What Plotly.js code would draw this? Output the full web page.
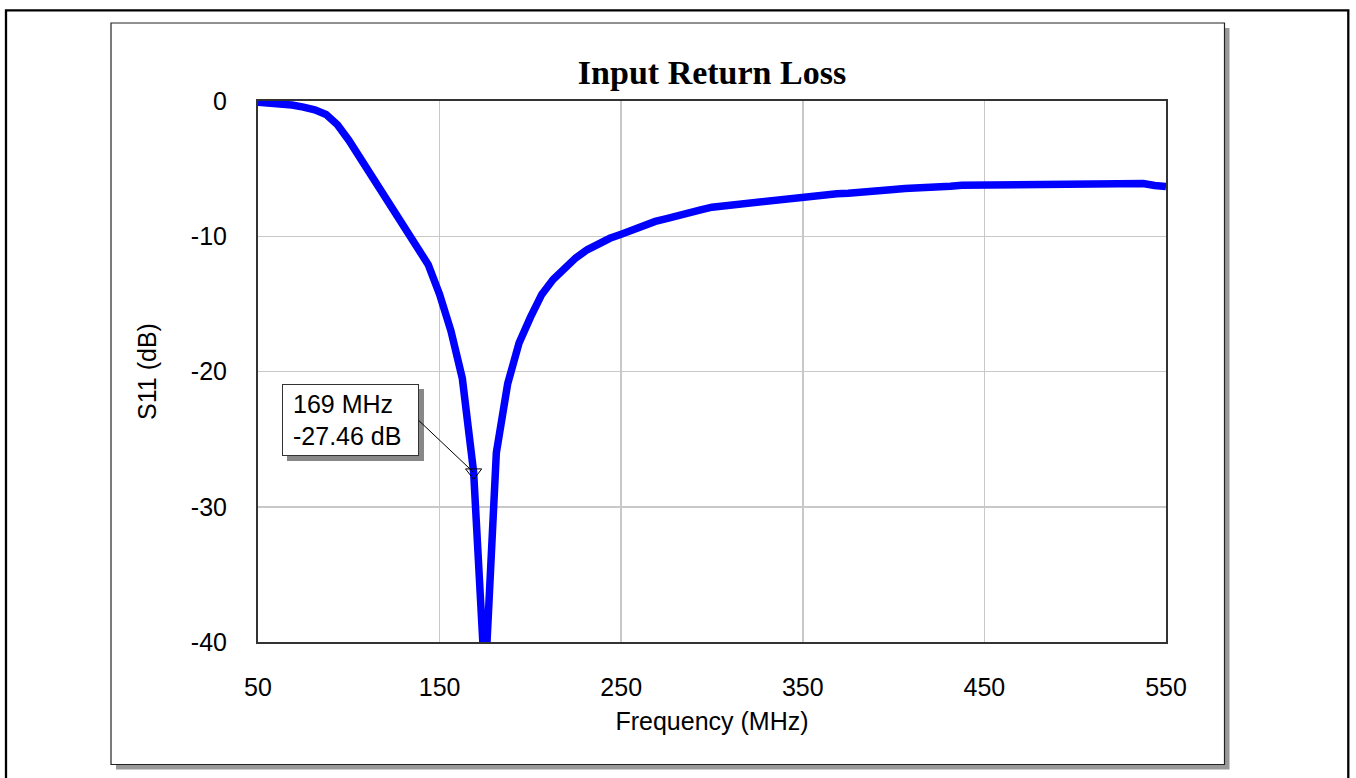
<!DOCTYPE html>
<html>
<head>
<meta charset="utf-8">
<script src="https://cdn.plot.ly/plotly-3.0.1.min.js"></script>
<style>
  html, body { margin: 0; padding: 0; background: #fff; }
  #chart { width: 1356px; height: 778px; }
</style>
</head>
<body>
<div id="chart"></div>
<script>
// ---- Data ----
const freqMHz = [
  50, 56.25, 62.5, 68.75, 75, 81.25, 87.5, 93.75, 100, 106.25,
  112.5, 118.75, 125, 131.25, 137.5, 143.75, 150, 156.25, 162.5, 168.75,
  175, 181.25, 187.5, 193.75, 200, 206.25, 212.5, 218.75, 225, 231.25,
  237.5, 243.75, 250, 256.25, 262.5, 268.75, 275, 281.25, 287.5, 293.75,
  300, 306.25, 312.5, 318.75, 325, 331.25, 337.5, 343.75, 350, 356.25,
  362.5, 368.75, 375, 381.25, 387.5, 393.75, 400, 406.25, 412.5, 418.75,
  425, 431.25, 437.5, 443.75, 450, 456.25, 462.5, 468.75, 475, 481.25,
  487.5, 493.75, 500, 506.25, 512.5, 518.75, 525, 531.25, 537.5, 543.75,
  550
];
const s11dB = [
  -0.10, -0.15, -0.22, -0.30, -0.45, -0.65, -1.00, -1.75, -2.90, -4.20,
  -5.50, -7.00, -8.20, -9.40, -10.70, -12.10, -14.30, -17.00, -20.50, -27.46,
  -43.00, -26.00, -20.90, -17.90, -16.00, -14.30, -13.20, -12.40, -11.60, -11.00,
  -10.50, -10.15, -9.85, -9.50, -9.10, -8.90, -8.70, -8.45, -8.20, -8.05,
  -7.85, -7.75, -7.65, -7.55, -7.45, -7.35, -7.27, -7.25, -7.15, -7.05,
  -6.95, -6.85, -6.82, -6.72, -6.70, -6.60, -6.55, -6.47, -6.45, -6.35,
  -6.33, -6.30, -6.23, -6.23, -6.23, -6.23, -6.12, -6.10, -6.10, -6.10,
  -6.10, -6.10, -6.10, -6.10, -6.10, -6.10, -6.10, -6.10, -6.10, -6.25,
  -6.32
];
const markerFreq = [168.75];
const markerDB = [-27.46];
const markerLabel = ['169 MHz', '-27.46 dB'];
const xTicks = [50, 150, 250, 350, 450, 550];
const yTicks = [0, -10, -20, -30, -40];
const chartTitle = 'Input Return Loss';
const xTitle = 'Frequency (MHz)';
const yTitle = 'S11 (dB)';

// ---- Layout geometry (pixels) ----
const W = 1356, H = 778;
const L = 258, R = 1166, T = 101, B = 642;
const px = x => (x - L) / (R - L);
const py = y => (B - y) / (B - T);
const sans = 'Liberation Sans, Arial, sans-serif';

const traces = [
  {
    x: freqMHz, y: s11dB, type: 'scatter', mode: 'lines',
    line: { color: '#0000ff', width: 7.5 },
    hoverinfo: 'x+y'
  },
  {
    x: markerFreq, y: markerDB, type: 'scatter', mode: 'markers',
    marker: { symbol: 'triangle-down-open', size: 14, color: '#000', line: { width: 1, color: '#000' } },
    cliponaxis: false
  }
];

const annBase = {
  x: markerFreq[0], y: markerDB[0], xref: 'x', yref: 'y',
  text: markerLabel.join('<br>'),
  font: { family: sans, size: 25, color: '#000' },
  align: 'left', width: 115, height: 50, borderpad: 10, borderwidth: 1,
  xanchor: 'right', yanchor: 'middle',
  showarrow: true, arrowhead: 0, arrowwidth: 1, standoff: 0,
  ax: -55, ay: -52
};

const layout = {
  width: W, height: H,
  margin: { l: L, r: W - R, t: T, b: H - B, pad: 0 },
  paper_bgcolor: '#ffffff', plot_bgcolor: '#ffffff',
  showlegend: false,
  title: {
    text: chartTitle,
    font: { family: 'Liberation Serif, Times New Roman, serif', size: 34, color: '#000', weight: 'bold' },
    x: 0.5, xref: 'paper', xanchor: 'center',
    y: 1 - 72 / H, yref: 'container', yanchor: 'middle'
  },
  xaxis: {
    range: [50, 550], autorange: false, fixedrange: true,
    tickvals: xTicks, ticktext: xTicks.map(String),
    ticks: '', ticklabelstandoff: 22,
    tickfont: { family: sans, size: 25, color: '#000' },
    showgrid: true, gridcolor: '#c8c8c8', gridwidth: 1.5,
    zeroline: false,
    showline: true, linecolor: '#333', linewidth: 2, mirror: true,
    title: { text: xTitle, font: { family: sans, size: 25, color: '#000' }, standoff: 12 }
  },
  yaxis: {
    range: [-40, 0], autorange: false, fixedrange: true,
    tickvals: yTicks, ticktext: yTicks.map(String),
    ticks: '', ticklabelstandoff: 24,
    tickfont: { family: sans, size: 25, color: '#000' },
    showgrid: true, gridcolor: '#c8c8c8', gridwidth: 1.5,
    zeroline: false,
    showline: true, linecolor: '#333', linewidth: 2, mirror: true,
    title: { text: yTitle, font: { family: sans, size: 25, color: '#000' }, standoff: 27 }
  },
  shapes: [
    { type: 'rect', xref: 'paper', yref: 'paper', layer: 'below',
      x0: px(6), x1: px(1348.3), y0: py(10.3), y1: py(800),
      line: { color: '#000', width: 2.3 }, fillcolor: 'rgba(0,0,0,0)' },
    { type: 'rect', xref: 'paper', yref: 'paper', layer: 'below',
      x0: px(116), x1: px(1229.5), y0: py(28), y1: py(769.5),
      line: { width: 0 }, fillcolor: '#999999' },
    { type: 'rect', xref: 'paper', yref: 'paper', layer: 'below',
      x0: px(111), x1: px(1224.5), y0: py(23), y1: py(764.5),
      line: { color: '#222', width: 1.2 }, fillcolor: '#ffffff' }
  ],
  annotations: [
    Object.assign({}, annBase, {
      text: '&nbsp;',
      bgcolor: '#888', bordercolor: '#888',
      arrowcolor: 'rgba(0,0,0,0)', xshift: 5, yshift: -5
    }),
    Object.assign({}, annBase, {
      bgcolor: '#ffffff', bordercolor: '#333', arrowcolor: '#000'
    })
  ]
};

Plotly.newPlot('chart', traces, layout, { displayModeBar: false, staticPlot: true });
</script>
</body>
</html>
